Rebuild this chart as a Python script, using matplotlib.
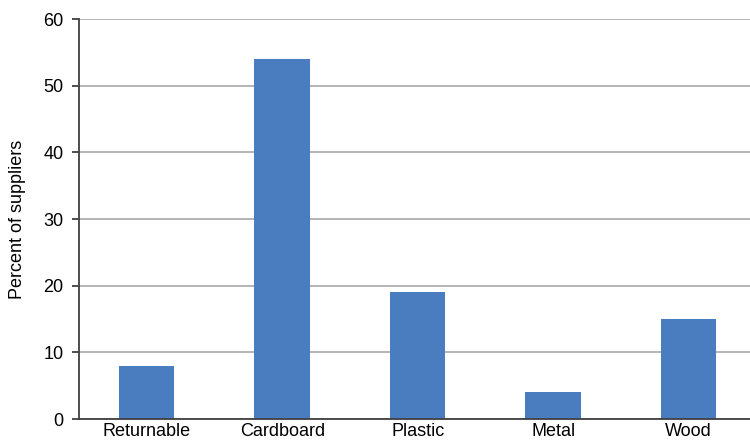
import numpy as np
import matplotlib.pyplot as plt

plt.rcParams['font.family'] = ['Liberation Sans', 'DejaVu Sans']

categories = ['Returnable', 'Cardboard', 'Plastic', 'Metal', 'Wood']
percent = [8, 54, 19, 4, 15]

fig = plt.figure(figsize=(7.5, 4.42), dpi=100)
ax = fig.add_axes([0.1053, 0.052, 0.9033, 0.905])

x = np.arange(len(categories))
ax.bar(x, percent, width=0.41, color='#4a7dc0', zorder=3)

ax.set_xlim(-0.5, len(categories) - 0.5)
ax.set_ylim(0, 60)
ax.set_yticks(range(0, 61, 10))
ax.set_xticks(x)
ax.set_xticklabels(categories, fontsize=13)
ax.tick_params(axis='x', length=0, pad=3)
ax.tick_params(axis='y', length=5, width=1.3, color='#404040', labelsize=13, pad=6)

ax.yaxis.grid(True, color='#a8a8a8', linewidth=1.2, zorder=0)
ax.set_axisbelow(True)

for side in ['top', 'right']:
    ax.spines[side].set_visible(False)
for side in ['left', 'bottom']:
    ax.spines[side].set_color('#404040')
    ax.spines[side].set_linewidth(1.3)
    ax.spines[side].set_zorder(4)

ax.set_ylabel('Percent of suppliers', fontsize=13)
ax.yaxis.set_label_coords(-0.078, 0.5)

fig.savefig('out.png', dpi=100)
